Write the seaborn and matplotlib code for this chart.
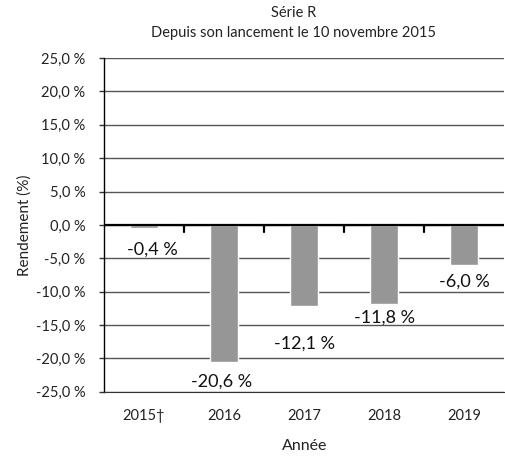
import matplotlib.pyplot as plt
import pandas as pd
import seaborn as sns

years = ["2015†", "2016", "2017", "2018", "2019"]
returns = [-0.4, -20.6, -12.1, -11.8, -6.0]
value_labels = ["-0,4 %", "-20,6 %", "-12,1 %", "-11,8 %", "-6,0 %"]
# vertical offset of each value label below its bar end (points)
label_offsets = [-16, -14, -27, -10, -12]
label_dx = [6, -2, 0, 0, 0]
yticks = [-25, -20, -15, -10, -5, 0, 5, 10, 15, 20, 25]

sns.set_style("white")
plt.rcParams["font.family"] = ["Lato", "DejaVu Sans"]

df = pd.DataFrame({"year": years, "ret": returns})

fig, ax = plt.subplots(figsize=(5.05, 4.61), dpi=100)
fig.subplots_adjust(left=0.206, right=0.999, top=0.874, bottom=0.150)

sns.barplot(data=df, x="year", y="ret", color="#969696", width=0.35,
            saturation=1, ax=ax, zorder=3)

ax.set_ylim(-25, 25)
ax.set_xlim(-0.5, 4.5)
ax.set_yticks(yticks)
ax.set_yticklabels([f"{t:.1f} %".replace(".", ",") for t in yticks], fontsize=10.5, color="#222222")
ax.tick_params(axis="y", length=3.5, width=1, color="#333333", direction="out", left=True, pad=10)
ax.tick_params(axis="x", length=0, labelsize=10.5, pad=12, labelcolor="#222222")
ax.grid(axis="y", color="#555555", linewidth=1, zorder=0)
ax.axhline(0, color="black", linewidth=1.6, zorder=4)

# category boundary ticks on the zero line
for b in [0.5, 1.5, 2.5, 3.5]:
    ax.plot([b, b], [0, -1.0], color="black", linewidth=1.6, zorder=4)

for sp in ["top", "right"]:
    ax.spines[sp].set_visible(False)
ax.spines["left"].set_color("black")
ax.spines["bottom"].set_color("#333333")
ax.spines["left"].set_linewidth(1)

for i, (v, lab) in enumerate(zip(returns, value_labels)):
    ax.annotate(lab, (i, v), xytext=(label_dx[i], label_offsets[i]), textcoords="offset points",
                ha="center", va="center", fontsize=13, color="#111111", zorder=5)

ax.set_xlabel("Année", fontsize=11.5, color="#222222", labelpad=12)
ax.set_ylabel("Rendement (%)", fontsize=11, color="#222222", labelpad=3)
fig.text(0.582, 0.972, "Série R", ha="center", va="center", fontsize=10.5, color="#222222")
fig.text(0.582, 0.929, "Depuis son lancement le 10 novembre 2015", ha="center", va="center",
         fontsize=10.5, color="#222222")

fig.savefig("out.png", dpi=100)
